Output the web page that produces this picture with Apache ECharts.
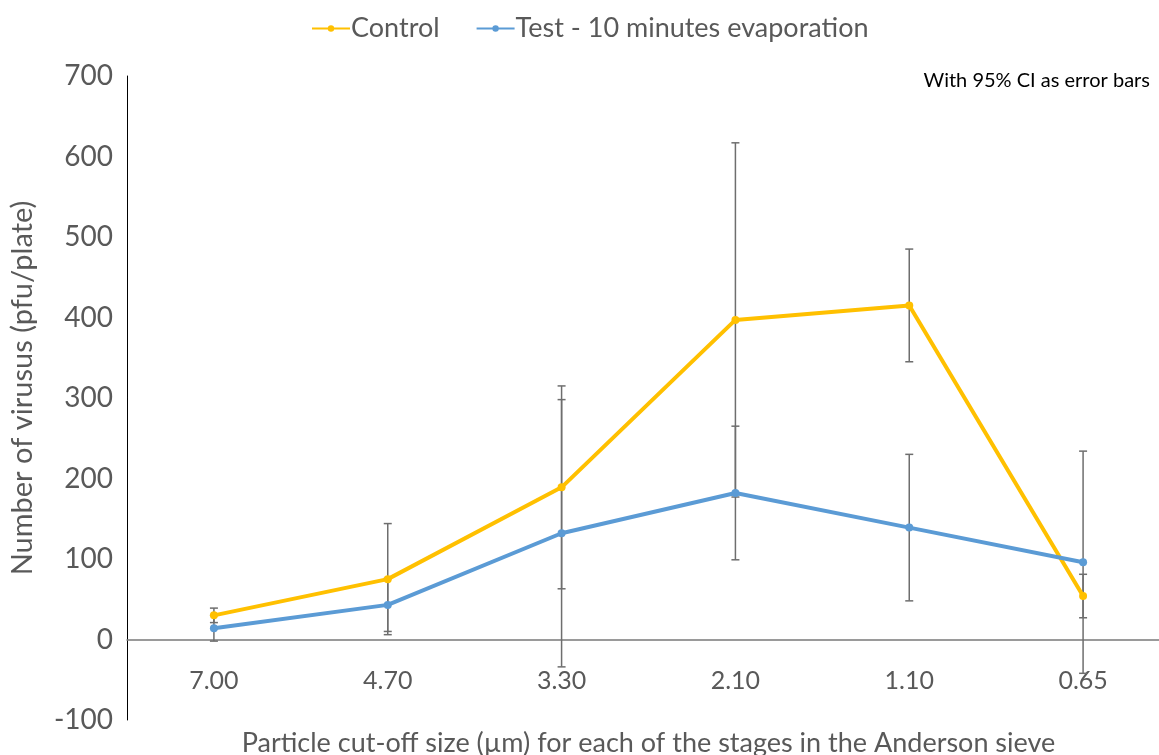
<!DOCTYPE html>
<html>
<head>
<meta charset="utf-8">
<script src="https://cdn.jsdelivr.net/npm/echarts@6/dist/echarts.min.js"></script>
<style>
  html, body { margin: 0; padding: 0; background: #fff; }
  #ichart { width: 1159px; height: 755px; }
</style>
</head>
<body>
<div id="ichart"></div>
<script>
// stage cut-off sizes (µm)
var categories = ['7.00', '4.70', '3.30', '2.10', '1.10', '0.65']
var controlData = [30, 75, 189, 397, 415, 54]
var controlCI = [9, 69, 126, 220, 70, 27]
var testData = [14, 43, 132, 182, 139, 96]
var testCI = [16, 33, 166, 83, 91, 138]
var yTicks = { min: -100, max: 700, interval: 100 }

var FONT = 'Lato, "Open Sans", sans-serif'
var TEXT_COLOR = '#595959'

// [index, low, high] rows for the error bars
function errRows (vals, ci) {
  return vals.map(function (v, i) { return [i, v - ci[i], v + ci[i]] })
}

function renderErr (params, api) {
  var x = api.value(0)
  var lo = api.coord([x, api.value(1)])
  var hi = api.coord([x, api.value(2)])
  var cap = 4
  var st = { stroke: '#6e6e6e', lineWidth: 1.5 }
  return {
    type: 'group',
    children: [
      { type: 'line', shape: { x1: hi[0], y1: hi[1], x2: lo[0], y2: lo[1] }, style: st },
      { type: 'line', shape: { x1: hi[0] - cap, y1: hi[1], x2: hi[0] + cap, y2: hi[1] }, style: st },
      { type: 'line', shape: { x1: lo[0] - cap, y1: lo[1], x2: lo[0] + cap, y2: lo[1] }, style: st }
    ]
  }
}

var myChart = echarts.init(document.getElementById('ichart'))
var option = {
  backgroundColor: '#fff',
  animation: false,
  textStyle: { fontFamily: FONT },
  grid: { left: 127, top: 76, width: 1043, height: 644, containLabel: false, outerBoundsMode: 'none' },
  legend: {
    top: 10,
    left: 306,
    itemWidth: 38,
    itemHeight: 8,
    itemGap: 36,
    data: ['Control', 'Test - 10 minutes evaporation'],
    textStyle: { color: TEXT_COLOR, fontSize: 27, fontFamily: FONT, padding: [0, 0, 0, -4] }
  },
  graphic: [
    {
      type: 'text',
      right: 9,
      top: 71,
      style: { text: 'With 95% CI as error bars', fill: '#000', font: '20px ' + FONT }
    }
  ],
  xAxis: {
    type: 'category',
    data: categories,
    boundaryGap: true,
    name: 'Particle cut-off size (µm) for each of the stages in the Anderson sieve',
    nameLocation: 'middle',
    nameGap: 10,
    nameMoveOverlap: false,
    nameTextStyle: { color: TEXT_COLOR, fontSize: 27, fontFamily: FONT },
    axisLine: { onZero: true, lineStyle: { color: '#7a7a7a', width: 1.5 } },
    axisTick: { show: false },
    axisLabel: { color: TEXT_COLOR, fontSize: 25, margin: -52, fontFamily: FONT }
  },
  yAxis: {
    type: 'value',
    min: yTicks.min,
    max: yTicks.max,
    interval: yTicks.interval,
    name: 'Number of virusus (pfu/plate)',
    nameLocation: 'middle',
    nameGap: 90,
    nameTextStyle: { color: TEXT_COLOR, fontSize: 29, fontFamily: FONT, padding: [0, 0, 0, 20] },
    axisLine: { show: true, lineStyle: { color: '#000', width: 1 } },
    axisTick: { show: false },
    splitLine: { show: false },
    axisLabel: { color: TEXT_COLOR, fontSize: 28, margin: 14, fontFamily: FONT }
  },
  series: [
    {
      name: 'Control err',
      type: 'custom',
      renderItem: renderErr,
      encode: { x: 0, y: [1, 2] },
      data: errRows(controlData, controlCI),
      z: 1,
      silent: true
    },
    {
      name: 'Test err',
      type: 'custom',
      renderItem: renderErr,
      encode: { x: 0, y: [1, 2] },
      data: errRows(testData, testCI),
      z: 1,
      silent: true
    },
    {
      name: 'Control',
      type: 'line',
      data: controlData,
      symbol: 'circle',
      symbolSize: 8,
      color: '#FFC000',
      lineStyle: { width: 4, color: '#FFC000' },
      itemStyle: { color: '#FFC000' },
      z: 3
    },
    {
      name: 'Test - 10 minutes evaporation',
      type: 'line',
      data: testData,
      symbol: 'circle',
      symbolSize: 8,
      color: '#5B9BD5',
      lineStyle: { width: 4, color: '#5B9BD5' },
      itemStyle: { color: '#5B9BD5' },
      z: 3
    }
  ]
}
myChart.setOption(option)
</script>
</body>
</html>
